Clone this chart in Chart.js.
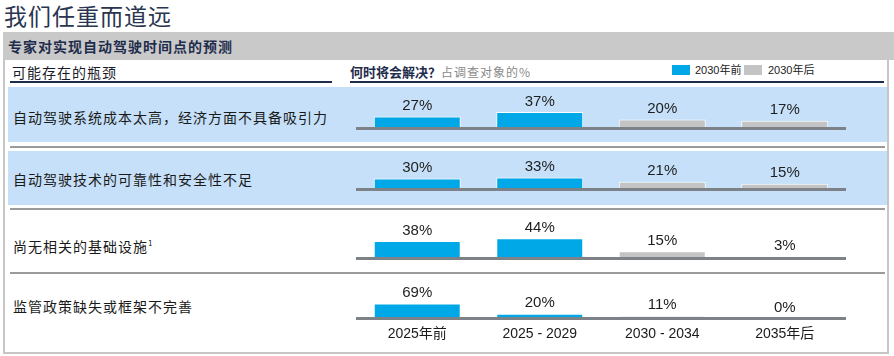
<!DOCTYPE html>
<html><head><meta charset="utf-8">
<script src="https://cdn.jsdelivr.net/npm/chart.js@4.4.0/dist/chart.umd.min.js"></script>
<style>
body{margin:0;width:894px;height:356px;background:#fff;position:relative;overflow:hidden;font-family:"Noto Sans CJK SC",sans-serif;}
.a{position:absolute;white-space:nowrap;}
canvas{position:absolute;}
</style></head><body>
<div class="a" style="left:4px;top:-1px;font-size:23px;line-height:32px;color:#2a3550;letter-spacing:1px;">我们任重而道远</div>
<div class="a" style="left:3px;top:32px;width:891px;height:28px;background:#c9c9c9;"></div>
<div class="a" style="left:8px;top:32px;font-size:14px;line-height:28px;font-weight:bold;color:#1f2d4d;letter-spacing:1px;">专家对实现自动驾驶时间点的预测</div>
<div class="a" style="left:3px;top:60px;width:882px;height:292px;border:2px solid #c6c6c6;border-top:none;"></div>
<div class="a" style="left:12px;top:63px;font-size:14px;line-height:18px;color:#1a1a2a;letter-spacing:1px;">可能存在的瓶颈</div>
<div class="a" style="left:10px;top:81px;width:322px;height:2px;background:#1f2d4d;"></div>
<div class="a" style="left:350px;top:63px;font-size:13px;line-height:18px;font-weight:bold;color:#1f2d4d;">何时将会解决？</div>
<div class="a" style="left:441px;top:63px;font-size:12px;line-height:18px;color:#8a8a8a;letter-spacing:1px;">占调查对象的%</div>
<div class="a" style="left:350px;top:81px;width:534px;height:2px;background:#1f2d4d;"></div>
<div class="a" style="left:672px;top:65px;width:18px;height:10px;background:#00a8e8;"></div>
<div class="a" id="lg0" style="left:695px;top:62px;font-size:11px;line-height:16px;color:#222;font-family:'Liberation Sans',Arial,'Noto Sans CJK SC';"></div>
<div class="a" style="left:744px;top:65px;width:18px;height:10px;background:#c4c4c4;"></div>
<div class="a" id="lg1" style="left:768px;top:62px;font-size:11px;line-height:16px;color:#222;font-family:'Liberation Sans',Arial,'Noto Sans CJK SC';"></div>
<div class="a" style="left:8px;top:87px;width:879px;height:55px;background:#c5e0f8;"></div>
<div class="a" style="left:10px;top:146px;width:875px;height:2px;background:#9a9a9a;"></div>
<div class="a" style="left:8px;top:151px;width:879px;height:54px;background:#c5e0f8;"></div>
<div class="a" style="left:10px;top:208px;width:875px;height:2px;background:#9a9a9a;"></div>
<div class="a" style="left:10px;top:272px;width:875px;height:2px;background:#9a9a9a;"></div>
<div id="rows"></div>
<script>
const categories = ['2025年前', '2025 - 2029', '2030 - 2034', '2035年后'];
const seriesNames = ['2030年前', '2030年后'];
const bottlenecks = ['自动驾驶系统成本太高，经济方面不具备吸引力', '自动驾驶技术的可靠性和安全性不足', '尚无相关的基础设施', '监管政策缺失或框架不完善'];
const valuesCost = [27, 37, 20, 17];
const valuesTech = [30, 33, 21, 15];
const valuesInfra = [38, 44, 15, 3];
const valuesPolicy = [69, 20, 11, 0];
const seriesOfCategory = [0, 0, 1, 1];

const rowValues = [valuesCost, valuesTech, valuesInfra, valuesPolicy];
const rowGeom = [
  {top: 88, base: 128, px: 0.43, labelY: 117},
  {top: 151, base: 189, px: 0.35, labelY: 179},
  {top: 212, base: 258, px: 0.45, labelY: 243},
  {top: 276, base: 316, px: 0.2, labelY: 306}
];
const colors = ['#00a8e8', '#c4c4c4'];

document.getElementById('lg0').textContent = seriesNames[0];
document.getElementById('lg1').textContent = seriesNames[1];

const valueLabels = {
  id: 'valueLabels',
  afterDatasetsDraw(chart) {
    const ctx = chart.ctx;
    const meta = chart.getDatasetMeta(0);
    const ca = chart.chartArea;
    ctx.save();
    ctx.fillStyle = '#7d8288';
    ctx.fillRect(ca.left, ca.bottom - 1, ca.right - ca.left, 3);
    ctx.font = '15px "Liberation Sans", Arial, sans-serif';
    ctx.fillStyle = '#1e1e1e';
    ctx.textAlign = 'center';
    ctx.textBaseline = 'bottom';
    meta.data.forEach((bar, i) => {
      const v = chart.data.datasets[0].data[i];
      ctx.fillText(v + '%', bar.x, bar.y - 3);
    });
    ctx.restore();
  }
};

const rowsDiv = document.getElementById('rows');
rowValues.forEach((vals, r) => {
  const g = rowGeom[r];
  const lab = document.createElement('div');
  lab.className = 'a';
  lab.style.cssText = 'left:13px;top:' + (g.labelY - 10) + 'px;font-size:14px;line-height:20px;color:#1a1a1a;letter-spacing:1px;';
  lab.textContent = bottlenecks[r];
  if (r === 2) { const s = document.createElement('sup'); s.textContent = '1'; s.style.fontSize = '8px'; lab.appendChild(s); }
  rowsDiv.appendChild(lab);
  const last = r === rowValues.length - 1;
  const tickH = last ? 30 : 0;
  const areaH = g.base - g.top;
  const cv = document.createElement('canvas');
  const h = areaH + 2 + tickH;
  cv.width = 500; cv.height = h;
  cv.style.cssText = 'left:351px;top:' + g.top + 'px;width:500px;height:' + h + 'px;';
  rowsDiv.appendChild(cv);
  new Chart(cv, {
    type: 'bar',
    data: {
      labels: categories,
      datasets: [{
        data: vals,
        backgroundColor: vals.map((v, i) => colors[seriesOfCategory[i]]),
        borderColor: '#ffffff',
        borderWidth: 1,
        borderSkipped: 'bottom',
        categoryPercentage: 0.71,
        barPercentage: 1
      }]
    },
    options: {
      responsive: false,
      animation: false,
      events: [],
      layout: {padding: {left: 5, right: 5, top: 0, bottom: last ? 0 : 2}},
      plugins: {legend: {display: false}, tooltip: {enabled: false}},
      scales: {
        x: {
          display: last,
          grid: {display: false, drawTicks: false},
          border: {display: false},
          ticks: {padding: 8, color: '#1a1a1a', font: {size: 14, family: '"Liberation Sans", Arial, "Noto Sans CJK SC", sans-serif'}},
          afterFit: s => { if (last) s.height = tickH; }
        },
        y: {display: false, min: 0, max: areaH / g.px}
      }
    },
    plugins: [valueLabels]
  });
});
</script>
</body></html>
